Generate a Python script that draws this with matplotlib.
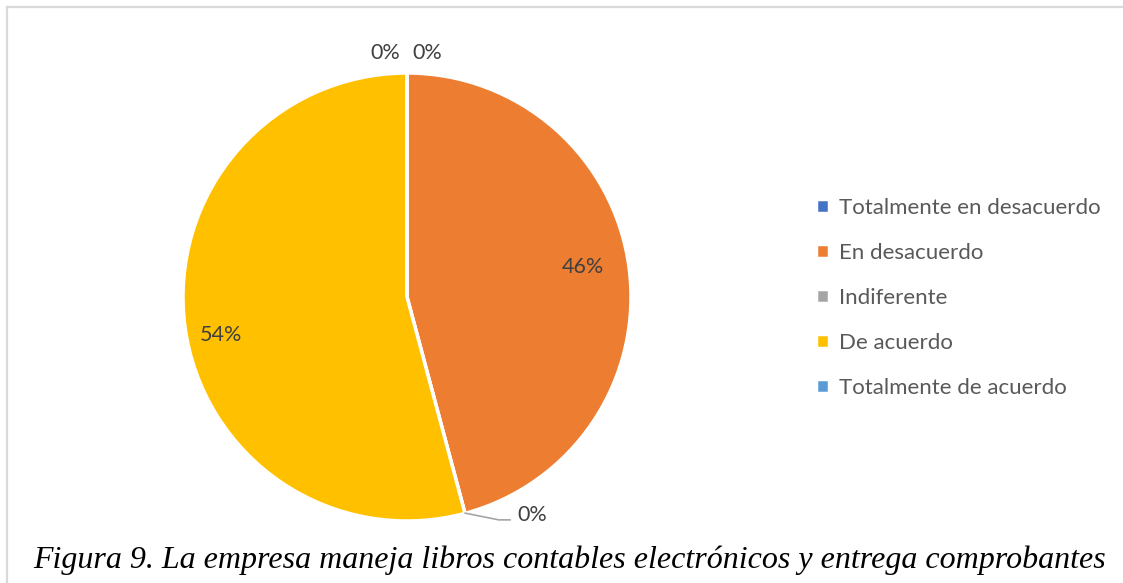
import numpy as np
import matplotlib.pyplot as plt
from matplotlib.lines import Line2D

categories = ["Totalmente en desacuerdo", "En desacuerdo", "Indiferente",
              "De acuerdo", "Totalmente de acuerdo"]
counts = [0, 11, 0, 13, 0]
colors = ["#4472C4", "#ED7D31", "#A5A5A5", "#FFC000", "#5B9BD5"]
caption = "Figura 9. La empresa maneja libros contables electrónicos y entrega comprobantes"

W, H = 1123, 583
fig = plt.figure(figsize=(W / 100, H / 100), dpi=100)

# chart frame (top and left edge only, as in the cropped screenshot)
fig.add_artist(Line2D([7 / W, 1], [1 - 7 / H, 1 - 7 / H], color="#D9D9D9", lw=1.6))
fig.add_artist(Line2D([7 / W, 7 / W], [0, 1 - 7 / H], color="#D9D9D9", lw=1.6))

cx, cy, r = 407, 297, 224
ax = fig.add_axes([(cx - r) / W, (H - cy - r) / H, 2 * r / W, 2 * r / H])
wedges, _ = ax.pie(counts, colors=colors, startangle=90, counterclock=False,
                   wedgeprops=dict(edgecolor="white", linewidth=2.5))
ax.set_xlim(-1, 1)
ax.set_ylim(-1, 1)
ax.set_aspect("equal")
ax.axis("off")

# data label positions (pie radius units)
label_pos = [(0.09, 1.09), (0.786, 0.134), (0.56, -0.975), (-0.83, -0.17), (-0.095, 1.09)]
total = sum(counts)
for v, (x, y) in zip(counts, label_pos):
    ax.text(x, y, f"{v / total * 100:.0f}%", ha="center", va="center",
            fontsize=15.5, color="#404040", family="Lato", clip_on=False)

# leader line for the zero slice at the bottom
ax.plot([0.26, 0.41, 0.46], [-0.965, -0.995, -0.995], color="#A5A5A5", lw=1.2,
        clip_on=False)

fig.legend(wedges, categories, loc="center left", bbox_to_anchor=(796 / W, 1 - 298 / H),
           frameon=False, prop=dict(family="Lato", size=16), labelcolor="#595959",
           handlelength=0.6, handleheight=0.6, handletextpad=0.45,
           labelspacing=1.13)

fig.text(570 / W, 1 - 560 / H, caption, ha="center", va="center",
         family="Liberation Serif", style="italic", fontsize=23, color="black")

fig.savefig("out.png", dpi=100, facecolor="white")
